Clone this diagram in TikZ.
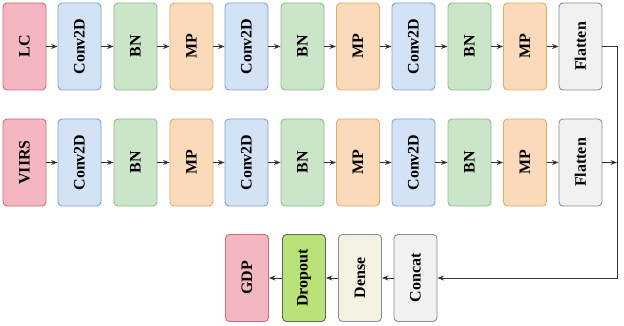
\documentclass[tikz,border=0pt]{standalone}
\usepackage{fontspec}
\setmainfont{Liberation Serif}
\usetikzlibrary{arrows.meta}
\definecolor{redfill}{RGB}{244,183,193}
\definecolor{redline}{RGB}{200,110,122}
\definecolor{bluefill}{RGB}{212,226,246}
\definecolor{blueline}{RGB}{130,160,206}
\definecolor{greenfill}{RGB}{202,229,200}
\definecolor{greenline}{RGB}{140,188,132}
\definecolor{orangefill}{RGB}{251,217,187}
\definecolor{orangeline}{RGB}{228,172,96}
\definecolor{grayfill}{RGB}{241,241,241}
\definecolor{grayline}{RGB}{140,140,140}
\definecolor{limefill}{RGB}{186,224,122}
\definecolor{limeline}{RGB}{96,104,86}
\definecolor{creamfill}{RGB}{245,241,227}
\tikzset{
  layer/.style={draw, rounded corners=4pt, line width=0.9pt, minimum width=43pt,
    minimum height=87pt, inner sep=0pt, font=\fontsize{16}{19}\selectfont\bfseries},
  inbox/.style={layer, fill=redfill, draw=redline},
  convbox/.style={layer, fill=bluefill, draw=blueline},
  bnbox/.style={layer, fill=greenfill, draw=greenline},
  mpbox/.style={layer, fill=orangefill, draw=orangeline},
  flatbox/.style={layer, fill=grayfill, draw=grayline},
  arr/.style={-{Stealth[length=6.5pt,width=5pt]}, line width=0.9pt, draw=black!80}
}
\newcommand{\vtext}[1]{\rotatebox{90}{#1}}
\begin{document}
\begin{tikzpicture}[x=1pt,y=1pt]
\useasboundingbox (0,0) rectangle (624,-326);
% first branch
\node[inbox] (lc) at (24.5,-46.5) {\vtext{LC}};
\node[convbox] (lcconva) at (79.5,-46.5) {\vtext{Conv2D}};
\node[bnbox] (lcbna) at (135.5,-46.5) {\vtext{BN}};
\node[mpbox] (lcmpa) at (191.5,-46.5) {\vtext{MP}};
\node[convbox] (lcconvb) at (246.5,-46.5) {\vtext{Conv2D}};
\node[bnbox] (lcbnb) at (302.5,-46.5) {\vtext{BN}};
\node[mpbox] (lcmpb) at (358,-46.5) {\vtext{MP}};
\node[convbox] (lcconvc) at (413.5,-46.5) {\vtext{Conv2D}};
\node[bnbox] (lcbnc) at (469.5,-46.5) {\vtext{BN}};
\node[mpbox] (lcmpc) at (525,-46.5) {\vtext{MP}};
\node[flatbox] (lcflat) at (580.5,-46.5) {\vtext{Flatten}};
% second branch
\node[inbox] (viirs) at (24.5,-162.5) {\vtext{VIIRS}};
\node[convbox] (vconva) at (79.5,-162.5) {\vtext{Conv2D}};
\node[bnbox] (vbna) at (135.5,-162.5) {\vtext{BN}};
\node[mpbox] (vmpa) at (191.5,-162.5) {\vtext{MP}};
\node[convbox] (vconvb) at (246.5,-162.5) {\vtext{Conv2D}};
\node[bnbox] (vbnb) at (302.5,-162.5) {\vtext{BN}};
\node[mpbox] (vmpb) at (358,-162.5) {\vtext{MP}};
\node[convbox] (vconvc) at (413.5,-162.5) {\vtext{Conv2D}};
\node[bnbox] (vbnc) at (469.5,-162.5) {\vtext{BN}};
\node[mpbox] (vmpc) at (525,-162.5) {\vtext{MP}};
\node[flatbox] (vflat) at (580.5,-162.5) {\vtext{Flatten}};
% head
\node[flatbox] (concat) at (415.5,-278) {\vtext{Concat}};
\node[layer, fill=creamfill, draw=grayline] (dense) at (360,-278) {\vtext{Dense}};
\node[layer, fill=limefill, draw=limeline] (dropout) at (304,-278) {\vtext{Dropout}};
\node[inbox] (gdp) at (247,-278) {\vtext{GDP}};
\coordinate (turn) at (617,-46.5);
\draw[arr] (lc) -- (lcconva);
\draw[arr] (lcconva) -- (lcbna);
\draw[arr] (lcbna) -- (lcmpa);
\draw[arr] (lcmpa) -- (lcconvb);
\draw[arr] (lcconvb) -- (lcbnb);
\draw[arr] (lcbnb) -- (lcmpb);
\draw[arr] (lcmpb) -- (lcconvc);
\draw[arr] (lcconvc) -- (lcbnc);
\draw[arr] (lcbnc) -- (lcmpc);
\draw[arr] (lcmpc) -- (lcflat);
\draw[arr] (viirs) -- (vconva);
\draw[arr] (vconva) -- (vbna);
\draw[arr] (vbna) -- (vmpa);
\draw[arr] (vmpa) -- (vconvb);
\draw[arr] (vconvb) -- (vbnb);
\draw[arr] (vbnb) -- (vmpb);
\draw[arr] (vmpb) -- (vconvc);
\draw[arr] (vconvc) -- (vbnc);
\draw[arr] (vbnc) -- (vmpc);
\draw[arr] (vmpc) -- (vflat);
\draw[arr] (lcflat) -- (turn) |- (concat);
\draw[arr] (vflat) -- (turn |- vflat);
\draw[arr] (concat) -- (dense);
\draw[arr] (dense) -- (dropout);
\draw[arr] (dropout) -- (gdp);
\end{tikzpicture}
\end{document}
